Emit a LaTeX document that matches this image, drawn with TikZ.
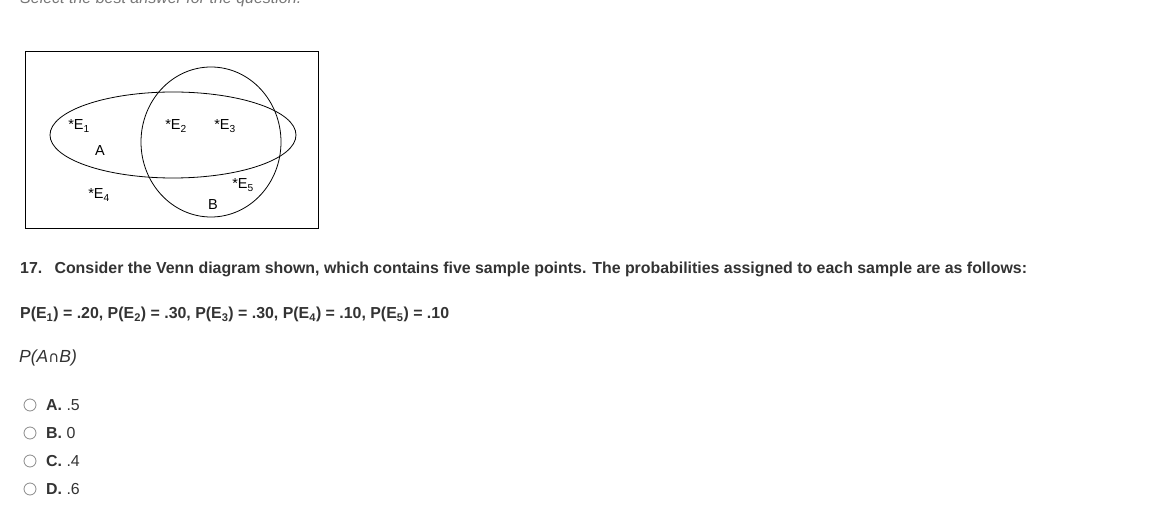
\documentclass[tikz,border=0pt]{standalone}
\usepackage{fontspec}
\setmainfont{Liberation Sans}
\definecolor{txt}{HTML}{333333}
\definecolor{radio}{HTML}{8A8A8A}
\definecolor{hint}{HTML}{777777}
\tikzset{
  venn/.style={draw=black, line width=0.8pt},
  lbl/.style={anchor=base, inner sep=0pt, font=\fontsize{14.5}{16}\selectfont},
  qtext/.style={anchor=base west, inner sep=0pt, text=txt, font=\fontsize{15.9}{18}\selectfont\bfseries},
  opt/.style={anchor=base west, inner sep=0pt, text=txt, font=\fontsize{15.9}{18}\selectfont},
  radiobtn/.style={draw=radio, line width=0.8pt, circle, minimum size=12pt, inner sep=0pt}
}
\begin{document}
\begin{tikzpicture}[x=1pt,y=-1pt]
\useasboundingbox (0,0) rectangle (1176,518);
\fill[white] (0,0) rectangle (1176,518);
\node[anchor=base west, inner sep=0pt, text=hint, font=\fontsize{16}{18}\selectfont\itshape] (hdr) at (20,3.5) {Select the best answer for the question.};
% Venn diagram
\draw[line width=0.8pt] (25,51) rectangle (318,228);
\draw[venn] (173,135) ellipse [x radius=123, y radius=43];
\draw[venn] (211,142) ellipse [x radius=70, y radius=75];
\node[lbl] (e1) at (79,130) {*E\textsubscript{1}};
\node[lbl] (e2) at (176,130) {*E\textsubscript{2}};
\node[lbl] (e3) at (225,130) {*E\textsubscript{3}};
\node[lbl] (a) at (100,156) {A};
\node[lbl] (e4) at (99,199) {*E\textsubscript{4}};
\node[lbl] (e5) at (243,189) {*E\textsubscript{5}};
\node[lbl] (b) at (213,210) {B};
% question
\node[qtext] (q) at (20,274) {17.\hspace{0.4em} Consider the Venn diagram shown, which contains five sample points. The probabilities assigned to each sample are as follows:};
\node[qtext] (p) at (20,319) {P(E\textsubscript{1}) = .20, P(E\textsubscript{2}) = .30, P(E\textsubscript{3}) = .30, P(E\textsubscript{4}) = .10, P(E\textsubscript{5}) = .10};
\node[opt, font=\fontsize{17.5}{19}\selectfont\itshape] (pab) at (19,363) {P(A{\fontspec{DejaVu Sans}\fontsize{15}{17}\selectfont\char"2229}B)};
\foreach \y/\l/\v [count=\i] in {405/A/.5, 433/B/0, 461/C/.4, 489/D/.6}{
  \node[radiobtn] (r\i) at (30,\y) {};
  \node[opt] (o\i) at (46,\y+5.5) {\textbf{\l.} \v};
}
\end{tikzpicture}
\end{document}
